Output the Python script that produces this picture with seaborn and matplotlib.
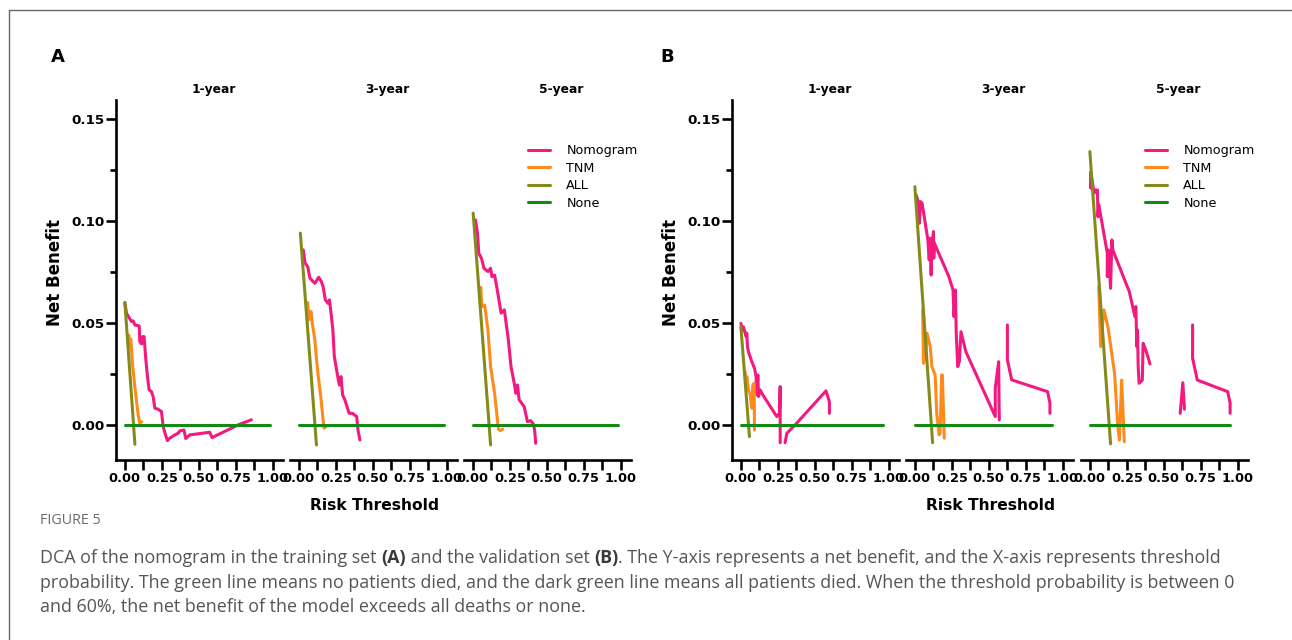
import numpy as np
import pandas as pd
import matplotlib
matplotlib.use("Agg")
import matplotlib.pyplot as plt
import matplotlib.transforms as mtransforms
from matplotlib.lines import Line2D
from matplotlib.ticker import FixedLocator, FixedFormatter
import seaborn as sns

nan = np.nan

# ---------------- data ----------------
models = ["Nomogram", "TNM", "ALL", "None"]
year_labels = ["1-year", "3-year", "5-year"]
x_tick_values = [0.0, 0.25, 0.5, 0.75, 1.0]
x_tick_labels = ["0.00", "0.25", "0.50", "0.75", "1.00"]
y_tick_values = [0.0, 0.05, 0.10, 0.15]
y_tick_labels = ["0.00", "0.05", "0.10", "0.15"]

# Training set (A)
train_1y_nomogram_x = [0.0, 0.011, 0.045, 0.056, 0.068, 0.097, 0.101, 0.113, 0.12, 0.13, 0.142, 0.153, 0.164, 0.18, 0.191, 0.203, 0.225, 0.248, 0.259, 0.275, 0.288, 0.304, 0.338, 0.36, 0.372, 0.40, 0.412, 0.439, 0.574, 0.59, 0.766, 0.856]
train_1y_nomogram_y = [0.060, 0.0547, 0.0507, 0.051, 0.049, 0.0485, 0.0408, 0.0397, 0.0433, 0.0433, 0.0319, 0.0237, 0.0172, 0.0163, 0.0139, 0.0082, 0.0077, 0.0065, -0.0008, -0.0049, -0.0077, -0.0065, -0.0049, -0.0041, -0.0029, -0.0025, -0.0067, -0.0049, -0.0036, -0.0062, 0.0, 0.0025]
train_1y_tnm_x = [0.028, 0.03, 0.04, 0.045, 0.05, 0.06, 0.07, 0.08, 0.09, 0.10, 0.115]
train_1y_tnm_y = [0.044, 0.038, 0.042, 0.037, 0.031, 0.024, 0.017, 0.011, 0.005, 0.001, 0.0015]
train_1y_all_x = [0.0, 0.068]
train_1y_all_y = [0.060, -0.0095]
train_1y_none_x = [0.0, 0.98]
train_1y_none_y = [0.0, 0.0]

train_3y_nomogram_x = [0.03, 0.042, 0.06, 0.075, 0.108, 0.134, 0.152, 0.164, 0.179, 0.197, 0.207, 0.219, 0.23, 0.24, 0.263, 0.274, 0.285, 0.296, 0.311, 0.34, 0.362, 0.391, 0.40, 0.413]
train_3y_nomogram_y = [0.0858, 0.0793, 0.0776, 0.0719, 0.0694, 0.0724, 0.0703, 0.0678, 0.0613, 0.0596, 0.0613, 0.0539, 0.0466, 0.0335, 0.0237, 0.0196, 0.0237, 0.0147, 0.0123, 0.0057, 0.0057, 0.0041, -0.0025, -0.0074]
train_3y_tnm_x = [0.06, 0.068, 0.082, 0.091, 0.108, 0.126, 0.148, 0.17, 0.185]
train_3y_tnm_y = [0.060, 0.0515, 0.0556, 0.0498, 0.0417, 0.027, 0.0139, -0.0016, -0.0008]
train_3y_all_x = [0.01, 0.119]
train_3y_all_y = [0.094, -0.0098]
train_3y_none_x = [0.0, 0.98]
train_3y_none_y = [0.0, 0.0]

train_5y_nomogram_x = [0.018, 0.031, 0.04, 0.058, 0.075, 0.102, 0.12, 0.129, 0.147, 0.165, 0.18, 0.191, 0.213, 0.225, 0.24, 0.258, 0.28, 0.291, 0.302, 0.313, 0.347, 0.369, 0.391, 0.409, 0.418, 0.425]
train_5y_nomogram_y = [0.1005, 0.094, 0.0842, 0.0817, 0.0768, 0.0752, 0.0768, 0.0727, 0.0735, 0.0662, 0.0597, 0.0548, 0.0564, 0.0499, 0.0417, 0.0286, 0.0204, 0.0155, 0.0196, 0.0123, 0.009, 0.0016, 0.0021, 0.0005, -0.0025, -0.009]
train_5y_tnm_x = [0.053, 0.062, 0.08, 0.102, 0.12, 0.147, 0.173, 0.187, 0.202]
train_5y_tnm_y = [0.0675, 0.058, 0.0588, 0.0466, 0.0286, 0.0155, -0.0021, -0.0028, -0.0021]
train_5y_all_x = [0.002, 0.12]
train_5y_all_y = [0.1038, -0.0098]
train_5y_none_x = [0.0, 0.98]
train_5y_none_y = [0.0, 0.0]

# Validation set (B)
valid_1y_nomogram_x = [0.0, 0.014, 0.018, 0.036, 0.04, 0.045, 0.051, 0.074, 0.092, 0.103, 0.108, 0.115, 0.119, 0.13, 0.142, 0.243, 0.261, 0.266, 0.266, nan, 0.299, 0.311, 0.367, 0.576, 0.599, 0.599]
valid_1y_nomogram_y = [0.0498, 0.0466, 0.048, 0.0433, 0.045, 0.0384, 0.0359, 0.031, 0.0278, 0.0237, 0.0147, 0.0245, 0.0139, 0.0172, 0.0155, 0.0041, 0.0057, 0.0188, -0.0087, nan, -0.0087, -0.0041, 0.0, 0.0167, 0.0114, 0.0057]
valid_1y_tnm_x = [0.029, 0.036, 0.04, 0.051, 0.063, 0.074, 0.081, 0.09, 0.092]
valid_1y_tnm_y = [0.0261, 0.0188, 0.0237, 0.0172, 0.0147, 0.0082, 0.0196, 0.0204, -0.0025]
valid_1y_all_x = [0.0, 0.058]
valid_1y_all_y = [0.0482, -0.0057]
valid_1y_none_x = [0.0, 0.96]
valid_1y_none_y = [0.0, 0.0]

valid_3y_nomogram_x = [0.009, 0.022, 0.031, 0.038, 0.049, 0.088, 0.097, 0.104, 0.11, 0.115, 0.126, 0.128, 0.132, 0.23, 0.258, 0.265, 0.274, 0.28, 0.29, 0.301, 0.312, 0.345, 0.544, 0.544, 0.567, 0.571, nan, 0.626, 0.626, 0.655, 0.898, 0.914, 0.914]
valid_3y_nomogram_y = [0.1127, 0.1095, 0.0989, 0.1095, 0.1087, 0.0907, 0.0809, 0.0915, 0.0735, 0.0874, 0.0948, 0.0817, 0.0891, 0.0727, 0.0662, 0.0531, 0.0662, 0.045, 0.0286, 0.031, 0.0457, 0.0359, 0.0041, 0.018, 0.031, 0.0025, nan, 0.049, 0.0319, 0.0221, 0.0163, 0.0106, 0.0057]
valid_3y_tnm_x = [0.053, 0.058, 0.071, 0.082, 0.104, 0.115, 0.137, 0.148, 0.164, 0.171, 0.181, 0.186, 0.199]
valid_3y_tnm_y = [0.0564, 0.0302, 0.0335, 0.045, 0.0384, 0.0286, 0.0245, 0.0057, -0.0049, -0.0041, 0.0245, 0.0245, -0.0065]
valid_3y_all_x = [0.0, 0.12]
valid_3y_all_y = [0.1168, -0.0087]
valid_3y_none_x = [0.0, 0.93]
valid_3y_none_y = [0.0, 0.0]

valid_5y_nomogram_x = [0.005, 0.007, 0.011, 0.029, 0.038, 0.051, 0.055, 0.06, 0.118, 0.118, 0.127, 0.14, 0.149, 0.155, 0.267, 0.305, 0.311, 0.318, 0.322, 0.327, 0.333, 0.355, 0.36, 0.378, 0.407, nan, 0.611, 0.629, 0.64, nan, 0.695, 0.695, 0.727, 0.933, 0.949, 0.949]
valid_5y_nomogram_y = [0.124, 0.116, 0.1217, 0.1136, 0.1152, 0.1152, 0.1021, 0.108, 0.0842, 0.0727, 0.0858, 0.067, 0.0907, 0.0858, 0.0653, 0.0531, 0.058, 0.0384, 0.0466, 0.0286, 0.0204, 0.022, 0.04, 0.0368, 0.0299, nan, 0.0057, 0.0207, 0.0077, nan, 0.049, 0.0327, 0.022, 0.0163, 0.0106, 0.0057]
valid_5y_tnm_x = [0.06, 0.073, 0.095, 0.122, 0.167, 0.189, 0.2, 0.215, 0.233]
valid_5y_tnm_y = [0.0678, 0.0384, 0.0564, 0.0482, 0.0253, -0.0008, -0.0074, 0.022, -0.0082]
valid_5y_all_x = [0.0, 0.14]
valid_5y_all_y = [0.134, -0.0093]
valid_5y_none_x = [0.0, 0.945]
valid_5y_none_y = [0.0, 0.0]

# ---------------- style ----------------
palette = {"Nomogram": "#F2197F", "TNM": "#FF8A1C", "ALL": "#858B1A", "None": "#138A13"}

sns.set_style("white")
plt.rcParams["font.family"] = ["DejaVu Sans"]
plt.rcParams["text.color"] = "black"
plt.rcParams["axes.labelcolor"] = "black"
plt.rcParams["xtick.color"] = "black"
plt.rcParams["ytick.color"] = "black"

W, H = 1292, 640
fig = plt.figure(figsize=(W / 100, H / 100), dpi=100)
fig.patch.set_facecolor("white")

AX_TOP, AX_BOT, AX_W = 100, 460, 167
XLIM = (-0.06, 1.07)
YLIM = (-0.0172, 0.1593)


def make_df(series):
    rows = []
    for model, (xs, ys) in series.items():
        seg = 0
        for xv, yv in zip(xs, ys):
            if np.isnan(xv) or np.isnan(yv):
                seg += 1
                continue
            rows.append({"x": xv, "y": yv, "model": model, "unit": f"{model}-{seg}"})
    return pd.DataFrame(rows)


def add_axes_px(left):
    return fig.add_axes([left / W, 1 - AX_BOT / H, AX_W / W, (AX_BOT - AX_TOP) / H])


panels = {
    "A": {
        "lefts": [116, 290, 464],
        "series": [
            {"Nomogram": (train_1y_nomogram_x, train_1y_nomogram_y), "TNM": (train_1y_tnm_x, train_1y_tnm_y),
             "ALL": (train_1y_all_x, train_1y_all_y), "None": (train_1y_none_x, train_1y_none_y)},
            {"Nomogram": (train_3y_nomogram_x, train_3y_nomogram_y), "TNM": (train_3y_tnm_x, train_3y_tnm_y),
             "ALL": (train_3y_all_x, train_3y_all_y), "None": (train_3y_none_x, train_3y_none_y)},
            {"Nomogram": (train_5y_nomogram_x, train_5y_nomogram_y), "TNM": (train_5y_tnm_x, train_5y_tnm_y),
             "ALL": (train_5y_all_x, train_5y_all_y), "None": (train_5y_none_x, train_5y_none_y)},
        ],
        "label_xy": (58, 57), "ylabel_x": 55, "xlabel_x": 374, "legend_x": 528,
    },
    "B": {
        "lefts": [732, 906, 1081],
        "series": [
            {"Nomogram": (valid_1y_nomogram_x, valid_1y_nomogram_y), "TNM": (valid_1y_tnm_x, valid_1y_tnm_y),
             "ALL": (valid_1y_all_x, valid_1y_all_y), "None": (valid_1y_none_x, valid_1y_none_y)},
            {"Nomogram": (valid_3y_nomogram_x, valid_3y_nomogram_y), "TNM": (valid_3y_tnm_x, valid_3y_tnm_y),
             "ALL": (valid_3y_all_x, valid_3y_all_y), "None": (valid_3y_none_x, valid_3y_none_y)},
            {"Nomogram": (valid_5y_nomogram_x, valid_5y_nomogram_y), "TNM": (valid_5y_tnm_x, valid_5y_tnm_y),
             "ALL": (valid_5y_all_x, valid_5y_all_y), "None": (valid_5y_none_x, valid_5y_none_y)},
        ],
        "label_xy": (667, 57), "ylabel_x": 671, "xlabel_x": 990, "legend_x": 1145,
    },
}

SPINE_W = 1.9
TICK_FS = 9.3

for key, p in panels.items():
    for i, (left, series) in enumerate(zip(p["lefts"], p["series"])):
        ax = add_axes_px(left)
        df = make_df(series)
        sns.lineplot(data=df, x="x", y="y", hue="model", units="unit", estimator=None,
                     sort=False, palette=palette, hue_order=models, legend=False,
                     linewidth=2.2, ax=ax)
        ax.set_xlim(*XLIM)
        ax.set_ylim(*YLIM)
        ax.set_xlabel("")
        ax.set_ylabel("")
        ax.patch.set_alpha(0)
        for s in ["top", "right"]:
            ax.spines[s].set_visible(False)
        ax.spines["bottom"].set_linewidth(SPINE_W)
        ax.spines["bottom"].set_color("black")
        ax.xaxis.set_major_locator(FixedLocator(x_tick_values))
        ax.xaxis.set_major_formatter(FixedFormatter(x_tick_labels))
        ax.xaxis.set_minor_locator(FixedLocator([0.125, 0.375, 0.625, 0.875]))
        ax.tick_params(axis="x", which="both", direction="out", length=7, width=SPINE_W,
                       color="black", labelcolor="black", bottom=True, pad=2)
        for t in ax.get_xticklabels():
            t.set_fontweight("bold")
            t.set_fontsize(TICK_FS)
        if i == 0:
            ax.spines["left"].set_linewidth(SPINE_W)
            ax.spines["left"].set_color("black")
            ax.yaxis.set_major_locator(FixedLocator(y_tick_values))
            ax.yaxis.set_major_formatter(FixedFormatter(y_tick_labels))
            ax.yaxis.set_minor_locator(FixedLocator([0.025, 0.075, 0.125]))
            ax.tick_params(axis="y", which="major", direction="out", length=7, width=SPINE_W,
                           color="black", labelcolor="black", left=True, pad=1)
            ax.tick_params(axis="y", which="minor", direction="out", length=4, width=SPINE_W,
                           color="black", left=True)
            for t in ax.get_yticklabels():
                t.set_fontweight("bold")
                t.set_fontsize(TICK_FS + 0.4)
        else:
            ax.spines["left"].set_visible(False)
            ax.set_yticks([])
        trans = mtransforms.blended_transform_factory(ax.transData, ax.transAxes)
        ax.text(0.6, 1 + 10 / (AX_BOT - AX_TOP), year_labels[i], transform=trans,
                ha="center", va="center", fontweight="bold", fontsize=8.8, color="black")
        if i == 2:
            handles = [Line2D([], [], color=palette[m], lw=2.2) for m in models]
            leg = ax.legend(handles, models, loc="upper left",
                            bbox_to_anchor=(p["legend_x"] / W, 1 - 144 / H),
                            bbox_transform=fig.transFigure, frameon=False, fontsize=9.2,
                            handlelength=1.75, handletextpad=1.25, labelspacing=0.36,
                            borderpad=0, borderaxespad=0)
            for t in leg.get_texts():
                t.set_color("black")

    lx, ly = p["label_xy"]
    fig.text(lx / W, 1 - ly / H, key, ha="center", va="center", fontweight="bold", fontsize=13,
             color="black")
    fig.text(p["ylabel_x"] / W, 1 - 272 / H, "Net Benefit", rotation=90, ha="center",
             va="center", fontweight="bold", fontsize=12, color="black")
    fig.text(p["xlabel_x"] / W, 1 - 506 / H, "Risk Threshold", ha="center", va="center",
             fontweight="bold", fontsize=11.2, color="black")

# frame of the figure box
fig.add_artist(Line2D([9 / W, 1.0], [1 - 10 / H, 1 - 10 / H], transform=fig.transFigure,
                      color="#666666", lw=1.0))
fig.add_artist(Line2D([9 / W, 9 / W], [1 - 10 / H, 0.0], transform=fig.transFigure,
                      color="#666666", lw=1.0))

# caption
cap_family = ["Open Sans", "DejaVu Sans"]
fig.text(40 / W, 1 - 520 / H, "FIGURE 5", ha="left", va="center", fontsize=10.3,
         color="#6a6a6a", family=cap_family)

caption_lines = [
    [("DCA of the nomogram in the training set ", False), ("(A)", True),
     (" and the validation set ", False), ("(B)", True),
     (". The Y-axis represents a net benefit, and the X-axis represents threshold", False)],
    [("probability. The green line means no patients died, and the dark green line means all patients died. When the threshold probability is between 0", False)],
    [("and 60%, the net benefit of the model exceeds all deaths or none.", False)],
]
caption_y = [558, 583, 607]

renderer = fig.canvas.get_renderer()


def draw_line(segments, x0, y, size):
    arts = []
    x = x0
    for txt, bold in segments:
        t = fig.text(x / W, 1 - y / H, txt, ha="left", va="center", fontsize=size,
                     family=cap_family, fontweight="bold" if bold else "normal",
                     color="#3a3a3a" if bold else "#555555")
        bb = t.get_window_extent(renderer)
        x += bb.width
        arts.append(t)
    return arts, x - x0


base = 11.5
arts, w = draw_line(caption_lines[1], 40, caption_y[1], base)
for a in arts:
    a.remove()
size = base * 1200.0 / w
for segs, yy in zip(caption_lines, caption_y):
    draw_line(segs, 40, yy, size)

fig.savefig("out.png", dpi=100, facecolor="white")
